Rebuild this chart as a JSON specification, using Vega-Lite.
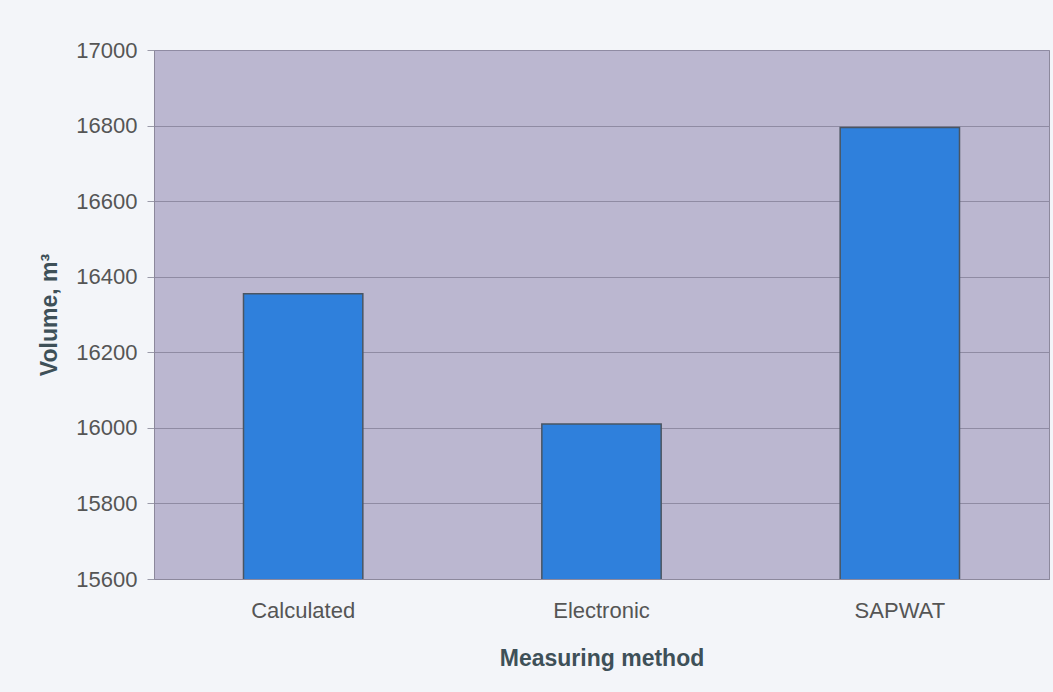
{
  "$schema": "https://vega.github.io/schema/vega-lite/v6.json",
  "autosize": {"type": "none"},
  "width": 895,
  "height": 529,
  "padding": {"left": 154, "top": 50, "right": 4, "bottom": 113},
  "background": "#F3F5F9",
  "data": {
    "values": [
      {"method": "Calculated", "volume": 16355},
      {"method": "Electronic", "volume": 16010},
      {"method": "SAPWAT", "volume": 16795}
    ]
  },
  "mark": {"type": "bar", "fill": "#2F80DC", "stroke": "#4A5562", "strokeWidth": 1.5, "clip": true},
  "encoding": {
    "x": {
      "field": "method",
      "type": "nominal",
      "sort": null,
      "scale": {"paddingInner": 0.6, "paddingOuter": 0.3},
      "axis": {
        "title": "Measuring method",
        "labelAngle": 0,
        "ticks": false,
        "tickSize": 0,
        "labelPadding": 21,
        "titlePadding": 26,
        "domainColor": "#8C889C"
      }
    },
    "y": {
      "field": "volume",
      "type": "quantitative",
      "scale": {"domain": [15600, 17000], "zero": false, "nice": false},
      "axis": {
        "title": "Volume, m³",
        "values": [15600, 15800, 16000, 16200, 16400, 16600, 16800, 17000],
        "format": "d",
        "tickSize": 7,
        "labelPadding": 10,
        "titlePadding": 14,
        "tickColor": "#9A9AA8",
        "domainColor": "#8C889C",
        "grid": true,
        "gridColor": "#8F8BA3",
        "gridWidth": 1
      }
    }
  },
  "config": {
    "font": "Liberation Sans",
    "view": {"fill": "#BBB7D0", "stroke": "#8C889C", "strokeWidth": 1},
    "axis": {
      "labelFont": "Liberation Sans",
      "labelFontSize": 22,
      "labelColor": "#555555",
      "titleFont": "Liberation Sans",
      "titleFontSize": 23,
      "titleFontWeight": "bold",
      "titleColor": "#3E5058"
    }
  }
}
